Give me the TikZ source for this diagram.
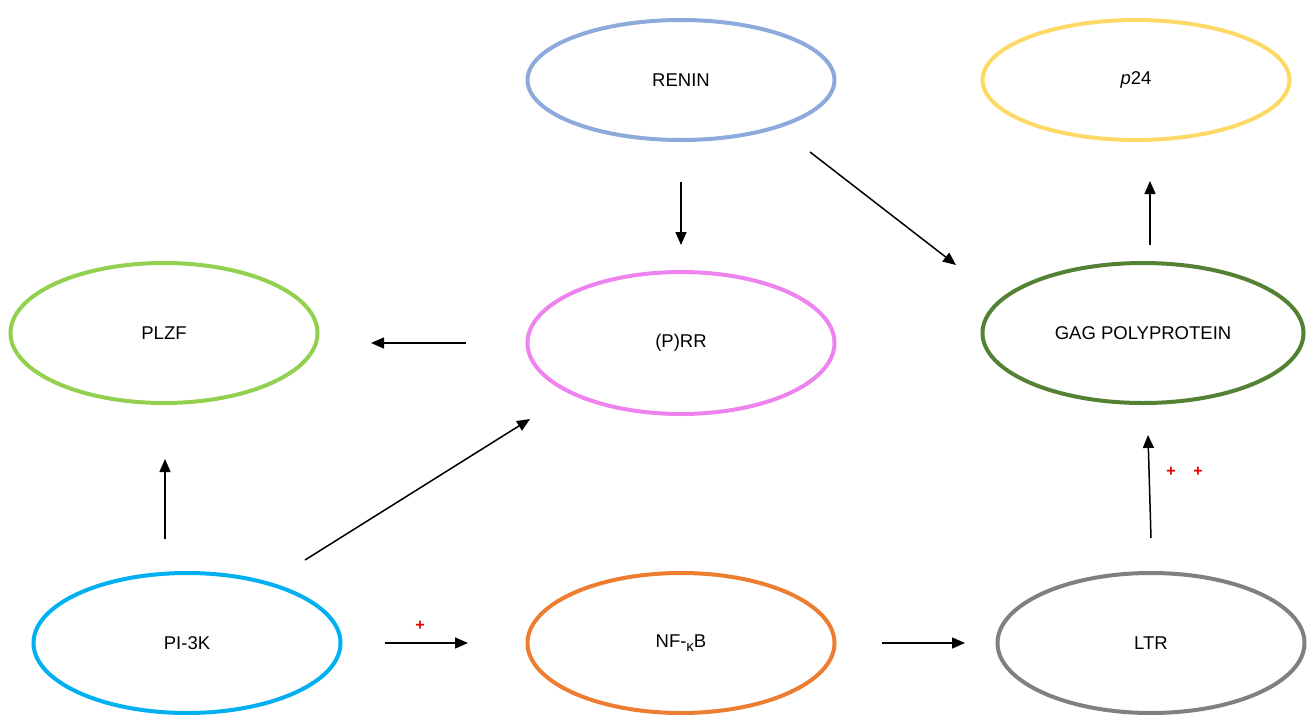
\documentclass[tikz,border=0pt]{standalone}
\usepackage{fontspec}
\setmainfont{Liberation Sans}
\usetikzlibrary{shapes.geometric,arrows.meta}
\definecolor{cRenin}{RGB}{142,169,219}
\definecolor{cP24}{RGB}{255,217,102}
\definecolor{cPlzf}{RGB}{146,208,80}
\definecolor{cPrr}{RGB}{238,130,238}
\definecolor{cGag}{RGB}{84,130,53}
\definecolor{cPik}{RGB}{0,176,240}
\definecolor{cNfkb}{RGB}{237,125,49}
\definecolor{cLtr}{RGB}{128,128,128}
\definecolor{cPlus}{RGB}{230,0,0}
\begin{document}
\begin{tikzpicture}[x=1pt,y=-1pt,
  oval/.style={ellipse,draw=#1,line width=4pt,minimum width=307pt,minimum height=140pt,inner sep=0pt,
    font=\fontsize{18.5}{22}\selectfont},
  link/.style={line width=1.5pt,-{Triangle[length=13pt,width=11pt]}},
  plus/.style={text=cPlus,font=\fontsize{16}{16}\selectfont\bfseries,inner sep=0pt}]
\useasboundingbox (0,0) rectangle (1310,715);
\node[oval=cRenin,minimum height=120pt] (renin) at (681,80) {RENIN};
\node[oval=cP24,minimum height=120pt] (p24) at (1136,80) {\textit{p}24};
\node[oval=cPlzf] (plzf) at (164,333) {PLZF};
\node[oval=cPrr,minimum height=142pt] (prr) at (681,343) {(P)RR};
\node[oval=cGag,minimum width=321pt] (gag) at (1143,333) {GAG POLYPROTEIN};
\node[oval=cPik] (pik) at (187,643) {PI-3K};
\node[oval=cNfkb] (nfkb) at (681,643) {NF-\raisebox{-0.4ex}{\fontsize{15}{15}\selectfont κ}B};
\node[oval=cLtr] (ltr) at (1151,643) {LTR};
% arrow end points
\coordinate (a1s) at (681,182); \coordinate (a1e) at (681,245);
\coordinate (a2s) at (810,152); \coordinate (a2e) at (956,265);
\coordinate (a3s) at (1150,245); \coordinate (a3e) at (1150,181);
\coordinate (a4s) at (466,343); \coordinate (a4e) at (371,343);
\coordinate (a5s) at (165,539); \coordinate (a5e) at (165,459);
\coordinate (a6s) at (305,560); \coordinate (a6e) at (530,419);
\coordinate (a7s) at (385,643); \coordinate (a7e) at (468,643);
\coordinate (a8s) at (882,643); \coordinate (a8e) at (965,643);
\coordinate (a9s) at (1151,538); \coordinate (a9e) at (1148,435);
\draw[link] (a1s) -- (a1e);
\draw[link] (a2s) -- (a2e);
\draw[link] (a3s) -- (a3e);
\draw[link] (a4s) -- (a4e);
\draw[link] (a5s) -- (a5e);
\draw[link] (a6s) -- (a6e);
\draw[link] (a7s) -- (a7e);
\draw[link] (a8s) -- (a8e);
\draw[link] (a9s) -- (a9e);
\node[plus] (p1) at (420,626) {+};
\node[plus] (p2) at (1171,472) {+};
\node[plus] (p3) at (1198,472) {+};
\end{tikzpicture}
\end{document}
